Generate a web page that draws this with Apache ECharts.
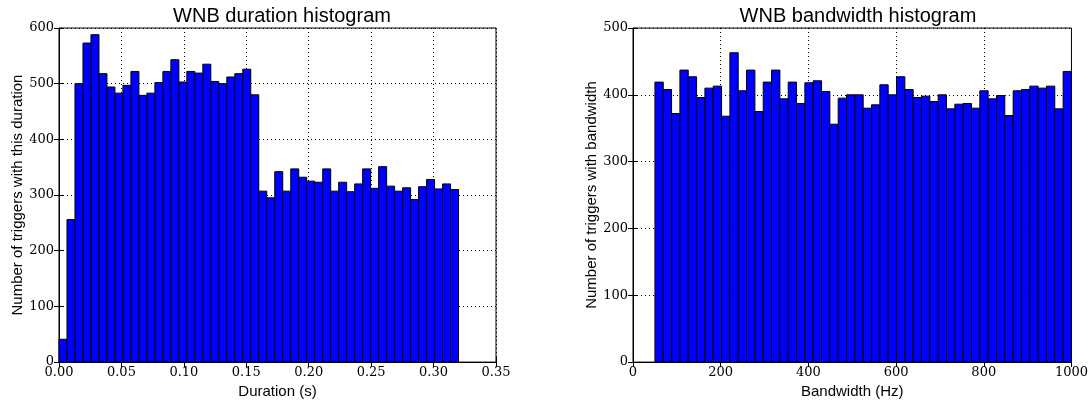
<!DOCTYPE html>
<html>
<head>
<meta charset="utf-8">
<script src="https://cdn.jsdelivr.net/npm/echarts@6/dist/echarts.min.js"></script>
<style>
  html, body { margin: 0; padding: 0; background: #fff; }
  #chart { width: 1091px; height: 404px; }
</style>
</head>
<body>
<div id="chart"></div>
<script>
// ===================================================
//  DATOS
// ===================================================
const durationStart = 0;
const durationBinWidth = 0.0064;
const durationCounts = [
    41, 256, 500, 573, 588, 518, 494, 483, 497, 522,
    479, 483, 502, 522, 543, 503, 522, 519, 535, 504,
    500, 512, 518, 526, 480, 307, 295, 342, 307, 347,
    332, 325, 323, 347, 307, 323, 306, 320, 347, 312,
    351, 316, 307, 313, 292, 315, 328, 311, 320, 310
];

const bandwidthStart = 50;
const bandwidthBinWidth = 19;
const bandwidthCounts = [
    419, 408, 372, 437, 427, 396, 410, 413, 368, 463,
    406, 437, 375, 419, 437, 394, 419, 387, 418, 421,
    405, 356, 395, 400, 400, 380, 385, 415, 400, 427,
    408, 396, 398, 390, 400, 379, 386, 387, 380, 406,
    394, 399, 369, 406, 408, 413, 410, 413, 379, 435
];

const durationTicks = [0, 0.35, 0.05];
const bandwidthTicks = [0, 1000, 200];

// ===================================================
//  HELPERS
// ===================================================
function toBins(start, width, counts) {
    return counts.map((c, i) => [start + i * width, start + (i + 1) * width, c]);
}

function renderBin(params, api) {
    const p0 = api.coord([api.value(0), api.value(2)]);
    const p1 = api.coord([api.value(1), 0]);
    return {
        type: 'rect',
        shape: { x: p0[0], y: p0[1], width: p1[0] - p0[0], height: p1[1] - p0[1] },
        style: { fill: '#0000ff', stroke: '#000', lineWidth: 1 }
    };
}

const serif = '"DejaVu Serif", "Liberation Serif", serif';
const sans = '"Liberation Sans", Arial, sans-serif';
const gridLine = { show: true, lineStyle: { color: '#000', type: [1, 3], width: 1 } };
const tick = { inside: true, length: 5, lineStyle: { color: '#000' } };

function xAxis(gridIndex, ticks, name, fmt) {
    return {
        type: 'value', gridIndex,
        min: ticks[0], max: ticks[1], interval: ticks[2],
        name, nameLocation: 'middle', nameGap: 19,
        nameTextStyle: { fontFamily: sans, fontSize: 15, color: '#000' },
        axisLine: { lineStyle: { color: '#000' } },
        axisTick: tick,
        axisLabel: { fontFamily: serif, fontSize: 13, color: '#000', margin: 4, formatter: fmt },
        splitLine: gridLine
    };
}

function yAxis(gridIndex, max, name) {
    return {
        type: 'value', gridIndex,
        min: 0, max, interval: 100,
        name, nameLocation: 'middle', nameGap: 32,
        nameTextStyle: { fontFamily: sans, fontSize: 15, color: '#000' },
        axisLine: { lineStyle: { color: '#000' } },
        axisTick: tick,
        axisLabel: { fontFamily: serif, fontSize: 13, color: '#000', margin: 5 },
        splitLine: gridLine
    };
}

// ejes espejo (solo marcas arriba / derecha)
function mirror(gridIndex, pos, min, max, interval) {
    return {
        type: 'value', gridIndex, position: pos,
        min, max, interval,
        axisLine: { show: false },
        axisTick: tick,
        axisLabel: { show: false },
        splitLine: { show: false }
    };
}

// ===================================================
//  GRÁFICO
// ===================================================
(function () {
    const chart = echarts.init(document.getElementById('chart'));

    chart.setOption({
        animation: false,
        title: [
            { text: 'WNB duration histogram', left: 277, top: 1, textAlign: 'center',
              textStyle: { fontFamily: sans, fontSize: 20, fontWeight: 'normal', color: '#000' } },
            { text: 'WNB bandwidth histogram', left: 853, top: 1, textAlign: 'center',
              textStyle: { fontFamily: sans, fontSize: 20, fontWeight: 'normal', color: '#000' } }
        ],
        grid: [
            { left: 59, right: 595, top: 28, bottom: 37, show: true, borderColor: '#000', borderWidth: 1 },
            { left: 633, right: 19, top: 28, bottom: 37, show: true, borderColor: '#000', borderWidth: 1 }
        ],
        xAxis: [
            xAxis(0, durationTicks, 'Duration (s)', v => v.toFixed(2)),
            xAxis(1, bandwidthTicks, 'Bandwidth (Hz)', v => String(v)),
            mirror(0, 'top', durationTicks[0], durationTicks[1], durationTicks[2]),
            mirror(1, 'top', bandwidthTicks[0], bandwidthTicks[1], bandwidthTicks[2])
        ],
        yAxis: [
            yAxis(0, 600, 'Number of triggers with this duration'),
            yAxis(1, 500, 'Number of triggers with bandwidth'),
            mirror(0, 'right', 0, 600, 100),
            mirror(1, 'right', 0, 500, 100)
        ],
        series: [
            { type: 'custom', xAxisIndex: 0, yAxisIndex: 0, renderItem: renderBin,
              encode: { x: [0, 1], y: 2 }, data: toBins(durationStart, durationBinWidth, durationCounts) },
            { type: 'custom', xAxisIndex: 1, yAxisIndex: 1, renderItem: renderBin,
              encode: { x: [0, 1], y: 2 }, data: toBins(bandwidthStart, bandwidthBinWidth, bandwidthCounts) }
        ]
    });
})();
</script>
</body>
</html>
